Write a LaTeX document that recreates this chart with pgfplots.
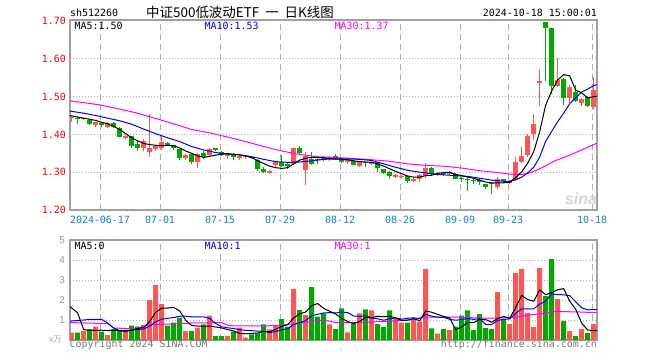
\documentclass[border=0pt]{standalone}
\usepackage{fontspec}
\usepackage{pgfplots}
\usepackage{pgfplotstable}
\pgfplotsset{compat=1.18}
\setmainfont{DejaVu Sans Mono}
\newfontfamily\monof{DejaVu Sans Mono}
\newfontfamily\cjkf{Noto Sans CJK SC}
\newfontfamily\sansf{Liberation Sans}
\definecolor{kred}{RGB}{255,85,85}
\definecolor{kgreen}{RGB}{0,168,0}
\definecolor{framec}{RGB}{160,160,160}
\definecolor{gridc}{RGB}{175,175,175}
\definecolor{xlab}{RGB}{16,128,208}
\definecolor{ma10}{RGB}{0,0,255}
\definecolor{ma30}{RGB}{255,0,255}
\definecolor{vlab}{RGB}{150,150,150}
\definecolor{copyc}{RGB}{120,120,120}
\newcommand{\lf}{\fontsize{10}{12}\selectfont\monof}

% red (up) candles: index open high low close
\pgfplotstableread{
i o h l c
0 1.443 1.448 1.434 1.446
2 1.440 1.444 1.438 1.443
4 1.425 1.434 1.420 1.432
6 1.419 1.432 1.417 1.430
9 1.391 1.398 1.388 1.397
12 1.363 1.387 1.355 1.383
13 1.353 1.453 1.339 1.365
14 1.362 1.372 1.357 1.368
15 1.364 1.395 1.360 1.380
19 1.337 1.349 1.333 1.346
21 1.326 1.350 1.311 1.347
23 1.346 1.364 1.343 1.361
26 1.343 1.349 1.334 1.347
28 1.337 1.347 1.332 1.343
29 1.339 1.346 1.335 1.344
33 1.297 1.305 1.294 1.303
34 1.318 1.328 1.314 1.327
37 1.322 1.364 1.320 1.363
39 1.306 1.354 1.267 1.343
43 1.336 1.343 1.330 1.341
46 1.328 1.333 1.321 1.332
48 1.317 1.328 1.315 1.327
50 1.322 1.334 1.318 1.326
54 1.288 1.294 1.284 1.292
55 1.288 1.293 1.285 1.291
57 1.277 1.285 1.273 1.283
58 1.282 1.294 1.275 1.292
59 1.290 1.325 1.284 1.312
61 1.292 1.300 1.290 1.299
63 1.294 1.302 1.292 1.299
71 1.260 1.288 1.256 1.281
73 1.272 1.280 1.268 1.276
74 1.280 1.340 1.277 1.328
75 1.328 1.366 1.325 1.343
76 1.345 1.400 1.340 1.396
77 1.400 1.453 1.385 1.428
78 1.537 1.574 1.475 1.541
81 1.527 1.603 1.525 1.545
83 1.495 1.530 1.483 1.525
85 1.483 1.497 1.475 1.493
87 1.473 1.552 1.466 1.518
}\redK

% green (down) candles: index open high low close
\pgfplotstableread{
i o h l c
1 1.444 1.446 1.428 1.441
3 1.439 1.441 1.425 1.428
5 1.429 1.432 1.419 1.426
7 1.430 1.432 1.416 1.420
8 1.418 1.420 1.392 1.393
10 1.395 1.396 1.363 1.369
11 1.375 1.382 1.355 1.365
16 1.377 1.379 1.368 1.372
17 1.371 1.373 1.360 1.363
18 1.361 1.362 1.333 1.337
20 1.347 1.349 1.323 1.328
22 1.352 1.355 1.336 1.339
24 1.363 1.364 1.356 1.359
25 1.354 1.356 1.344 1.346
27 1.349 1.350 1.332 1.339
30 1.341 1.343 1.335 1.337
31 1.333 1.335 1.304 1.308
32 1.308 1.314 1.297 1.301
35 1.328 1.346 1.314 1.317
36 1.323 1.325 1.309 1.317
38 1.363 1.370 1.349 1.352
40 1.334 1.354 1.320 1.323
41 1.335 1.342 1.322 1.332
42 1.341 1.343 1.329 1.334
44 1.343 1.347 1.333 1.336
45 1.334 1.338 1.325 1.328
47 1.330 1.332 1.318 1.319
49 1.327 1.328 1.315 1.324
51 1.327 1.328 1.301 1.310
52 1.308 1.309 1.295 1.299
53 1.301 1.302 1.283 1.290
56 1.289 1.290 1.271 1.277
60 1.312 1.313 1.289 1.295
62 1.298 1.300 1.291 1.295
64 1.295 1.299 1.281 1.283
65 1.284 1.286 1.274 1.281
66 1.283 1.284 1.250 1.279
67 1.280 1.283 1.270 1.277
68 1.279 1.281 1.266 1.274
69 1.268 1.270 1.256 1.260
70 1.271 1.272 1.243 1.268
72 1.281 1.283 1.271 1.276
79 1.698 1.698 1.540 1.681
80 1.682 1.682 1.507 1.527
82 1.547 1.548 1.477 1.497
84 1.512 1.530 1.485 1.489
86 1.500 1.502 1.472 1.475
}\greenK

\pgfplotstableread{
i v
0 0.37
2 0.45
4 0.67
6 0.25
9 0.50
12 0.75
13 2.00
14 2.75
15 1.80
19 0.45
21 0.62
23 1.22
26 0.20
28 0.62
29 0.12
33 0.53
34 0.75
37 2.55
39 1.25
43 0.78
46 0.38
48 1.33
50 1.48
54 1.08
55 0.87
57 1.05
58 0.92
59 3.55
61 0.32
63 0.50
71 2.40
73 0.80
74 3.35
75 3.55
76 1.35
77 0.65
78 3.60
81 2.05
83 0.45
85 0.55
87 0.80
}\redV

\pgfplotstableread{
i v
1 0.37
3 0.55
5 0.42
7 0.55
8 0.45
10 0.72
11 0.67
16 0.72
17 0.87
18 1.12
20 0.45
22 0.78
24 0.20
25 0.20
27 0.42
30 0.28
31 0.33
32 0.78
35 1.05
36 0.67
38 1.50
40 2.65
41 1.17
42 1.33
44 0.55
45 1.58
47 0.82
49 1.53
51 0.80
52 0.65
53 1.48
56 0.87
60 0.58
62 0.55
64 0.67
65 1.22
66 1.48
67 0.50
68 1.30
69 0.60
70 0.55
72 1.05
79 2.20
80 4.05
82 0.95
84 0.20
86 0.35
}\greenV

\pgfplotsset{
  kax/.style={
    scale only axis, width=527bp,
    xmin=-0.28, xmax=87.55,
    axis line style={framec, line width=1.4bp},
    major tick length=0pt, tick style={draw=none},
    xtick={4.72,14.72,24.72,34.72,44.72,54.72,64.72,72.72,86.72},
    xmajorgrids, ymajorgrids,
    x grid style={gridc, line width=0.9bp, dash pattern=on 6bp off 4bp},
    y grid style={gridc, line width=0.9bp, dash pattern=on 1bp off 2bp},
    extra y tick style={grid=none},
  },
  nomark/.style={only marks, mark=*, mark size=0pt,
    mark options={draw=none, fill=none}, forget plot},
}

\begin{document}
\begin{tikzpicture}
\path[use as bounding box] (0,0) rectangle (660bp,-360bp);

% ---------- price panel ----------
\begin{axis}[kax,
  at={(70bp,-20bp)}, anchor=north west, height=190bp,
  ymin=1.2, ymax=1.7026,
  ytick={1.3,1.4,1.5,1.6}, yticklabels={1.30,1.40,1.50,1.60},
  extra y ticks={1.2,1.7}, extra y tick labels={1.20,1.70},
  yticklabel style={font=\lf, text=red, inner sep=0pt, xshift=-4bp},
  xticklabels={2024-06-17,07-01,07-15,07-29,08-12,08-26,09-09,09-23,10-18},
  xticklabel style={font=\lf, text=xlab, inner sep=0pt, yshift=-5.5bp},
]
% wicks
\addplot[nomark, error bars/.cd, y dir=both, y explicit, error mark=none,
  error bar style={kred, line width=1bp}] table[x=i, y=o,
  y error plus expr=\thisrow{h}-\thisrow{o},
  y error minus expr=\thisrow{o}-\thisrow{l}] \redK;
\addplot[nomark, error bars/.cd, y dir=both, y explicit, error mark=none,
  error bar style={kgreen, line width=1bp}] table[x=i, y=o,
  y error plus expr=\thisrow{h}-\thisrow{o},
  y error minus expr=\thisrow{o}-\thisrow{l}] \greenK;
% bodies
\addplot[nomark, error bars/.cd, y dir=plus, y explicit, error mark=none,
  error bar style={kred, line width=5bp}]
  table[x=i, y=o, y error plus expr=\thisrow{c}-\thisrow{o}] \redK;
\addplot[nomark, error bars/.cd, y dir=minus, y explicit, error mark=none,
  error bar style={kgreen, line width=5bp}]
  table[x=i, y=o, y error minus expr=\thisrow{o}-\thisrow{c}] \greenK;
% MA30
\addplot[ma30, line width=1bp, mark=none] coordinates {
(-0.3,1.489) (0,1.488) (3,1.482) (5,1.477) (8,1.467) (11,1.456) (14,1.442) (17,1.428)
(20,1.413) (23,1.404) (26,1.393) (29,1.381) (32,1.368) (35,1.356) (38,1.347) (41,1.341)
(44,1.339) (47,1.336) (50,1.333) (53,1.329) (56,1.322) (59,1.318) (62,1.316) (65,1.311)
(68,1.304) (71,1.299) (73,1.295) (75,1.294) (76,1.297) (77,1.302) (78,1.309) (79,1.317)
(80,1.326) (81,1.333) (82,1.339) (83,1.345) (84,1.352) (85,1.359) (86,1.366) (87,1.373) (87.6,1.377)};
% MA10
\addplot[ma10, line width=1bp, mark=none] coordinates {
(-0.3,1.462) (0,1.461) (2,1.456) (4,1.450) (6,1.443) (8,1.436) (10,1.427) (12,1.414) (14,1.402)
(16,1.391) (18,1.381) (20,1.368) (22,1.359) (24,1.352) (26,1.348) (28,1.346) (30,1.341)
(32,1.334) (34,1.328) (36,1.326) (38,1.327) (40,1.330) (42,1.334) (44,1.335) (46,1.335)
(48,1.334) (50,1.331) (52,1.322) (54,1.313) (56,1.305) (58,1.300) (60,1.296) (62,1.293)
(64,1.291) (66,1.289) (68,1.284) (70,1.279) (72,1.276) (73,1.276) (74,1.280) (75,1.287)
(76,1.298) (77,1.313) (78,1.340) (79,1.382) (80,1.408) (81,1.434) (82,1.456) (83,1.481)
(84,1.497) (85,1.512) (86,1.520) (87,1.529) (87.6,1.532)};
% MA5
\addplot[black, line width=1bp, mark=none] coordinates {
(-0.3,1.450) (0,1.449) (2,1.443) (4,1.437) (5,1.432) (6,1.428) (7,1.421) (8,1.413) (9,1.402)
(10,1.391) (11,1.383) (12,1.376) (13,1.373) (14,1.371) (15,1.370) (16,1.371) (17,1.370)
(18,1.364) (19,1.356) (20,1.350) (21,1.343) (22,1.339) (23,1.342) (24,1.345) (25,1.348)
(26,1.349) (27,1.347) (28,1.346) (29,1.343) (30,1.339) (31,1.330) (32,1.323) (33,1.316)
(34,1.312) (35,1.310) (36,1.312) (37,1.322) (38,1.332) (39,1.337) (40,1.339) (41,1.339)
(42,1.338) (43,1.336) (44,1.335) (45,1.334) (46,1.333) (47,1.330) (48,1.328) (49,1.327)
(50,1.326) (51,1.322) (52,1.316) (53,1.309) (54,1.302) (55,1.296) (56,1.290) (57,1.287)
(58,1.287) (59,1.291) (60,1.292) (61,1.297) (62,1.299) (63,1.300) (64,1.294) (65,1.291)
(66,1.287) (67,1.284) (68,1.279) (69,1.274) (70,1.272) (71,1.272) (72,1.272) (73,1.273)
(74,1.286) (75,1.301) (76,1.324) (77,1.354) (78,1.407) (79,1.478) (80,1.515) (81,1.544)
(82,1.558) (83,1.555) (84,1.517) (85,1.510) (86,1.496) (87,1.500) (87.6,1.501)};
\end{axis}

% ---------- volume panel ----------
\begin{axis}[kax,
  at={(70bp,-240bp)}, anchor=north west, height=100bp,
  ymin=0, ymax=5,
  ytick={1,2,3,4}, yticklabels={1,2,3,4},
  extra y ticks={5}, extra y tick labels={5},
  yticklabel style={font=\fontsize{10}{12}\selectfont\sansf, text=vlab, inner sep=0pt, xshift=-5bp},
  xticklabels={},
]
\addplot[ybar, bar width=5bp, bar shift=0pt, fill=kred, draw=none] table[x=i, y=v] \redV;
\addplot[ybar, bar width=5bp, bar shift=0pt, fill=kgreen, draw=none] table[x=i, y=v] \greenV;
% vol MA30
\addplot[ma30, line width=1bp, mark=none] coordinates {
(-0.3,0.87) (0,0.87) (6,0.82) (7,0.60) (11,0.55) (12,0.72) (14,0.78) (17,0.80) (20,0.85)
(25,0.87) (26,0.74) (27,0.70) (29,0.71) (31,0.70) (34,0.72) (35,0.74) (37,0.82) (39,0.88)
(40,0.92) (41,0.97) (42,1.00) (43,0.94) (44,0.87) (46,0.87) (49,0.89) (52,0.93) (54,0.96)
(57,1.02) (59,1.15) (62,1.15) (64,1.15) (66,1.12) (69,1.09) (71,1.10) (74,1.14) (76,1.24)
(78,1.31) (79,1.33) (80,1.42) (84,1.41) (87,1.37) (87.6,1.37)};
% vol MA10
\addplot[ma10, line width=1bp, mark=none] coordinates {
(-0.3,0.95) (0,0.95) (2,1.00) (3,1.03) (5,1.03) (6,0.85) (7,0.60) (8,0.47) (9,0.46) (10,0.49)
(11,0.52) (12,0.55) (13,0.70) (14,0.91) (15,1.04) (16,1.09) (17,1.12) (18,1.19) (19,1.19)
(20,1.16) (21,1.15) (22,1.16) (23,1.08) (24,0.82) (25,0.66) (26,0.61) (27,0.57) (28,0.52)
(29,0.48) (30,0.47) (31,0.44) (32,0.44) (33,0.37) (34,0.42) (35,0.51) (36,0.56) (37,0.77)
(38,0.86) (39,0.97) (40,1.21) (41,1.29) (42,1.35) (43,1.37) (44,1.35) (45,1.40) (46,1.37)
(47,1.20) (48,1.18) (49,1.21) (50,1.10) (51,1.06) (52,0.99) (53,1.06) (54,1.11) (55,1.04)
(56,1.09) (57,1.11) (58,1.07) (59,1.28) (60,1.19) (61,1.14) (62,1.13) (63,1.03) (64,0.99)
(65,1.02) (66,1.08) (67,1.03) (68,1.07) (69,0.77) (70,0.77) (71,0.98) (72,1.03) (73,1.06)
(74,1.33) (75,1.56) (76,1.55) (77,1.56) (78,1.79) (79,1.95) (80,2.30) (81,2.27) (82,2.26)
(83,2.22) (84,1.91) (85,1.61) (86,1.51) (87,1.52) (87.6,1.52)};
% vol MA5
\addplot[black, line width=1bp, mark=none] coordinates {
(-0.3,1.67) (0,1.60) (1,1.35) (2,0.52) (3,0.48) (4,0.48) (5,0.49) (6,0.47) (7,0.49) (8,0.47)
(9,0.43) (10,0.49) (11,0.58) (12,0.62) (13,0.93) (14,1.38) (15,1.59) (16,1.60) (17,1.63)
(18,1.45) (19,0.99) (20,0.72) (21,0.70) (22,0.68) (23,0.70) (24,0.65) (25,0.60) (26,0.52)
(27,0.45) (28,0.33) (29,0.31) (30,0.33) (31,0.35) (32,0.43) (33,0.41) (34,0.53) (35,0.69)
(36,0.76) (37,1.11) (38,1.30) (39,1.40) (40,1.72) (41,1.82) (42,1.58) (43,1.44) (44,1.30)
(45,1.08) (46,0.92) (47,0.82) (48,0.93) (49,1.13) (50,1.11) (51,1.19) (52,1.16) (53,1.19)
(54,1.10) (55,0.98) (56,0.99) (57,1.07) (58,0.96) (59,1.45) (60,1.39) (61,1.28) (62,1.18)
(63,1.10) (64,0.52) (65,0.65) (66,0.88) (67,0.87) (68,1.03) (69,1.02) (70,0.89) (71,1.07)
(72,1.18) (73,1.08) (74,1.63) (75,2.23) (76,2.02) (77,1.94) (78,2.50) (79,2.27) (80,2.37)
(81,2.51) (82,2.57) (83,1.94) (84,1.54) (85,0.84) (86,0.50) (87,0.47) (87.6,0.47)};
\end{axis}

% ---------- texts ----------
\node[anchor=base west, inner sep=0, font=\lf] at (70bp,-16bp) {sh512260};
\node[anchor=base, inner sep=0, font=\fontsize{13.5}{15}\selectfont\cjkf] at (240bp,-17bp) {中证500低波动ETF\hspace{6bp}一\hspace{6bp}日K线图};
\node[anchor=base east, inner sep=0, font=\lf] at (597bp,-16bp) {2024-10-18 15:00:01};

\node[anchor=base west, inner sep=0, font=\lf] at (74.5bp,-29.3bp) {MA5:1.50};
\node[anchor=base west, inner sep=0, font=\lf, text=ma10] at (204.5bp,-29.3bp) {MA10:1.53};
\node[anchor=base west, inner sep=0, font=\lf, text=ma30] at (334.5bp,-29.3bp) {MA30:1.37};

\node[anchor=base west, inner sep=0, font=\lf] at (74.5bp,-249.5bp) {MA5:0};
\node[anchor=base west, inner sep=0, font=\lf, text=ma10] at (204.5bp,-249.5bp) {MA10:1};
\node[anchor=base west, inner sep=0, font=\lf, text=ma30] at (334.5bp,-249.5bp) {MA30:1};

\node[anchor=base, inner sep=0, font=\fontsize{16}{16}\selectfont\sansf\bfseries\itshape, text=black!16] at (581bp,-204bp) {sina};

\node[anchor=center, inner sep=0, font=\fontsize{8.5}{9}\selectfont\cjkf, text=black!35] at (55.5bp,-340bp) {x万};
\node[anchor=base west, inner sep=0, font=\lf, text=copyc] at (69.5bp,-347.5bp) {Copyright 2024 SINA.COM};
\node[anchor=base east, inner sep=0, font=\lf, text=copyc] at (597bp,-347.5bp) {http://finance.sina.com.cn};
\end{tikzpicture}
\end{document}
